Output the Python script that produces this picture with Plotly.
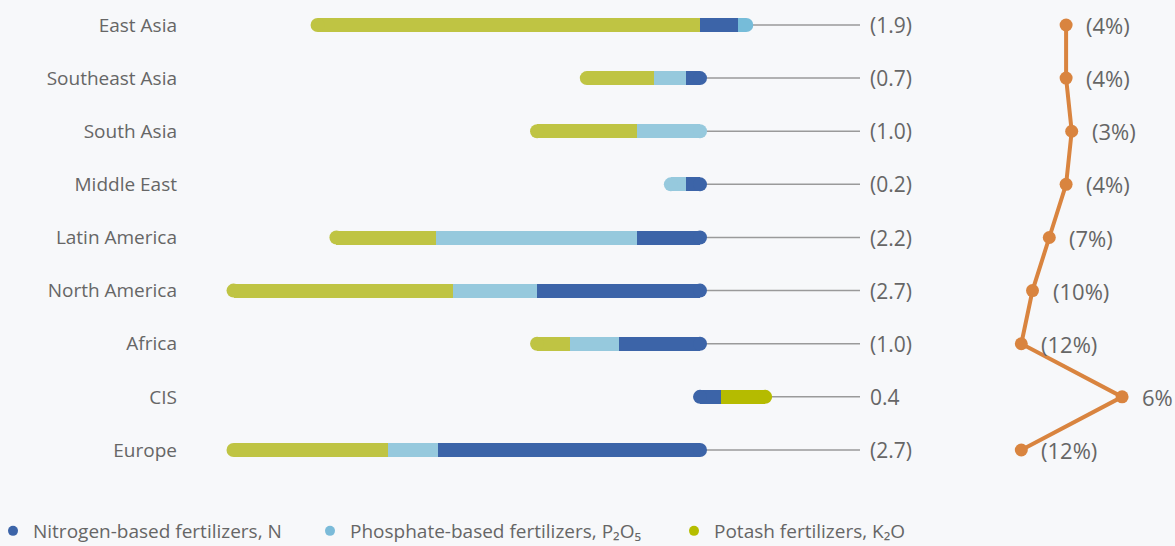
import plotly.graph_objects as go

# ---------------- data ----------------
regions = ["East Asia", "Southeast Asia", "South Asia", "Middle East", "Latin America",
           "North America", "Africa", "CIS", "Europe"]
nitrogen = [0.22, -0.08, 0.0, -0.08, -0.37, -0.95, -0.47, 0.12, -1.53]
phosphate = [0.05, -0.19, -0.37, -0.09, -1.17, -0.49, -0.29, 0.0, -0.29]
potash = [-2.23, -0.39, -0.58, 0.0, -0.58, -1.28, -0.19, 0.26, -0.90]
totals = [-1.9, -0.7, -1.0, -0.2, -2.2, -2.7, -1.0, 0.4, -2.7]
pct = [-4, -4, -3, -4, -7, -10, -12, 6, -12]
legend_names = ["Nitrogen-based fertilizers, N",
                "Phosphate-based fertilizers, P₂O₅",
                "Potash fertilizers, K₂O"]

# ---------------- style ----------------
BG = "#f7f8fa"
TXT = "#666666"
FONT = "Open Sans"
C_N = "#3c64a8"
C_P_POS, C_P_NEG = "#76bcd9", "#96c9dd"
C_K_POS, C_K_NEG = "#b5bb00", "#bfc443"
LEG_COLORS = [C_N, "#7bbbd9", "#b5bd00"]
LEG_TEXT_PX = [40, 350, 714]
ORANGE = "#d9843f"

W, H = 1175, 546
ML, MB = 182, 56
PLOT_W, PLOT_H = W - ML, H - MB
ZERO_PX, SCALE = 700, 171.5            # bar axis: pixel of zero, px per unit
BAR_END_PX = 960
PCT_START_PX, PCT_ZERO_PX, PCT_SCALE = 975, 1088.5, 5.6
ROW0, ROWSTEP = 25, 53.125
BAR_PX = 14
LINE_END = (860 - ZERO_PX) / SCALE

x_range = [(ML - ZERO_PX) / SCALE, (BAR_END_PX - ZERO_PX) / SCALE]
x2_range = [(PCT_START_PX - PCT_ZERO_PX) / PCT_SCALE, (W - PCT_ZERO_PX) / PCT_SCALE]
y_range = [(PLOT_H - ROW0) / ROWSTEP, -ROW0 / ROWSTEP]

fig = go.Figure()

series = [
    (nitrogen, C_N, C_N),
    (phosphate, C_P_POS, C_P_NEG),
    (potash, C_K_POS, C_K_NEG),
]

for vals, cpos, cneg in series:
    fig.add_trace(go.Bar(
        y=regions, x=vals, orientation="h", width=BAR_PX / ROWSTEP,
        marker=dict(color=[cpos if v >= 0 else cneg for v in vals], line=dict(width=0)),
        showlegend=False, hoverinfo="skip", xaxis="x", yaxis="y"))

# rounded caps + leader lines + total labels
cap_x, cap_y, cap_c = [], [], []
for i, r in enumerate(regions):
    segs = [(s[0][i], s[1], s[2]) for s in series]
    neg = [(v, cn) for v, cp, cn in segs if v < 0]
    pos = [(v, cp) for v, cp, cn in segs if v > 0]
    left = sum(v for v, _ in neg)
    right = sum(v for v, _ in pos)
    lc = neg[-1][1] if neg else pos[0][1]
    rc = pos[-1][1] if pos else neg[0][1]
    cap_x += [left, right]
    cap_y += [r, r]
    cap_c += [lc, rc]
    fig.add_shape(type="line", xref="x", yref="y", x0=right, x1=LINE_END, y0=r, y1=r,
                  line=dict(color="#9a9a9a", width=1.5), layer="below")
    lab = f"({abs(totals[i]):.1f})" if totals[i] < 0 else f"{totals[i]:.1f}"
    fig.add_annotation(x=LINE_END, y=r, xref="x", yref="y", text=lab, showarrow=False,
                       xanchor="left", xshift=8, font=dict(family=FONT, size=21, color=TXT))

fig.add_trace(go.Scatter(x=cap_x, y=cap_y, mode="markers",
                         marker=dict(size=BAR_PX, color=cap_c, line=dict(width=0)),
                         showlegend=False, hoverinfo="skip", xaxis="x", yaxis="y"))

# percent line
fig.add_trace(go.Scatter(x=pct, y=regions, mode="lines+markers",
                         line=dict(color=ORANGE, width=4),
                         marker=dict(size=13, color=ORANGE),
                         showlegend=False, hoverinfo="skip", xaxis="x2", yaxis="y"))
for i, r in enumerate(regions):
    lab = f"({abs(pct[i])}%)" if pct[i] < 0 else f"{pct[i]}%"
    fig.add_annotation(x=pct[i], y=r, xref="x2", yref="y", text=lab, showarrow=False,
                       xanchor="left", xshift=18, font=dict(family=FONT, size=22, color=TXT))

# legend entries (one legend per entry so each sits where the reference has it)
legend_ids = ["legend", "legend2", "legend3"]
for name, col, lid in zip(legend_names, LEG_COLORS, legend_ids):
    fig.add_trace(go.Scatter(x=[None], y=[None], mode="markers", name=name, legend=lid,
                             marker=dict(size=10, color=col), xaxis="x", yaxis="y"))

leg_common = dict(orientation="h", xref="container", yref="container", xanchor="left",
                  y=(H - 531) / H, yanchor="middle",
                  font=dict(family=FONT, size=19, color=TXT),
                  bgcolor="rgba(0,0,0,0)", itemclick=False, itemdoubleclick=False)

fig.update_layout(
    width=W, height=H, margin=dict(l=ML, r=0, t=0, b=MB, autoexpand=False),
    paper_bgcolor=BG, plot_bgcolor=BG,
    barmode="relative", bargap=0,
    font=dict(family=FONT, color=TXT, size=19),
    xaxis=dict(domain=[0, (BAR_END_PX - ML) / PLOT_W], range=x_range, visible=False, fixedrange=True),
    xaxis2=dict(domain=[(PCT_START_PX - ML) / PLOT_W, 1], range=x2_range, visible=False,
                anchor="y", fixedrange=True),
    yaxis=dict(type="category", categoryorder="array", categoryarray=regions, range=y_range,
               showgrid=False, zeroline=False, showline=False, ticks="", automargin=False,
               tickfont=dict(family=FONT, size=19, color=TXT), ticklabelstandoff=4),
    showlegend=True,
    legend=dict(x=0, indentation=-7, **leg_common),
    legend2=dict(x=(LEG_TEXT_PX[1] - 40) / W, **leg_common),
    legend3=dict(x=(LEG_TEXT_PX[2] - 40) / W, **leg_common),
    hovermode=False,
)

fig.write_html("out.html")
